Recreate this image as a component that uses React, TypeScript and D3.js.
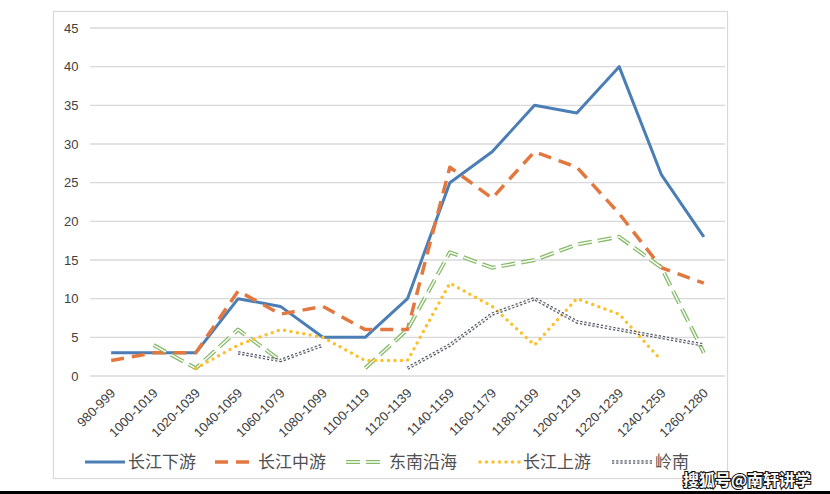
import { useEffect, useRef } from "react";
import * as d3 from "d3";

// periods on the x axis
const periods = [
  "980-999",
  "1000-1019",
  "1020-1039",
  "1040-1059",
  "1060-1079",
  "1080-1099",
  "1100-1119",
  "1120-1139",
  "1140-1159",
  "1160-1179",
  "1180-1199",
  "1200-1219",
  "1220-1239",
  "1240-1259",
  "1260-1280",
];

const yTicks = [0, 5, 10, 15, 20, 25, 30, 35, 40, 45];

// series values (null = no data)
const lowerYangtze = [3, 3, 3, 10, 9, 5, 5, 10, 25, 29, 35, 34, 40, 26, 18];
const middleYangtze = [2, 3, 3, 11, 8, 9, 6, 6, 27, 23, 29, 27, 21, 14, 12];
const southeastCoast = [null, 4, 1, 6, 2, null, 1, 6, 16, 14, 15, 17, 18, 14, 3];
const upperYangtze = [null, null, 1, 4, 6, 5, 2, 2, 12, 9, 4, 10, 8, 2, null];
const lingnan = [null, null, null, 3, 2, 4, null, 1, 4, 8, 10, 7, 6, 5, 4];

const seriesNames = ["长江下游", "长江中游", "东南沿海", "长江上游", "岭南"];

type Style = {
  color: string;
  width: number;
  dash: string | null;
  cap: string;
  inner?: number; // white inner stroke for compound (double) lines
};

const styles: Style[] = [
  { color: "#4a7eb5", width: 3, dash: null, cap: "butt" },
  { color: "#e2783f", width: 3.5, dash: "13,8", cap: "butt" },
  { color: "#86bb68", width: 4, dash: "14,6", cap: "butt", inner: 1.4 },
  { color: "#fcc02a", width: 3.5, dash: "0,6.5", cap: "round" },
  { color: "#555a66", width: 3.6, dash: "2.2,2", cap: "butt", inner: 1.1 },
];

export default function App() {
  const ref = useRef<SVGSVGElement>(null);

  useEffect(() => {
    const svg = d3.select(ref.current);
    svg.selectAll("*").remove();

    const width = 830;
    const height = 494;
    const plot = { left: 90, right: 725, top: 28, bottom: 376 };

    const x = d3
      .scaleBand<string>()
      .domain(periods)
      .range([plot.left, plot.right]);
    const y = d3.scaleLinear().domain([0, 45]).range([plot.bottom, plot.top]);

    svg
      .append("rect")
      .attr("width", width)
      .attr("height", height)
      .attr("fill", "white");

    // chart frame
    svg
      .append("rect")
      .attr("x", 53.5)
      .attr("y", 11.5)
      .attr("width", 674)
      .attr("height", 467)
      .attr("fill", "none")
      .attr("stroke", "#d9d9d9")
      .attr("stroke-width", 1.2);

    // gridlines
    svg
      .append("g")
      .selectAll("line")
      .data(yTicks)
      .join("line")
      .attr("x1", plot.left)
      .attr("x2", plot.right)
      .attr("y1", (d) => y(d))
      .attr("y2", (d) => y(d))
      .attr("stroke", "#d9d9d9")
      .attr("stroke-width", 1.3);

    // y tick labels
    svg
      .append("g")
      .selectAll("text")
      .data(yTicks)
      .join("text")
      .attr("x", 78.5)
      .attr("y", (d) => y(d))
      .attr("dy", "0.35em")
      .attr("text-anchor", "end")
      .attr("font-family", "Liberation Sans, Arial, sans-serif")
      .attr("font-size", 13)
      .attr("fill", "#404040")
      .text((d) => d);

    // x tick labels, rotated
    svg
      .append("g")
      .selectAll("text")
      .data(periods)
      .join("text")
      .attr("transform", (d) => {
        const cx = (x(d) as number) + x.bandwidth() / 2 + 5;
        return `translate(${cx},${plot.bottom + 18}) rotate(-45)`;
      })
      .attr("text-anchor", "end")
      .attr("font-family", "Liberation Sans, Arial, sans-serif")
      .attr("font-size", 13)
      .attr("fill", "#404040")
      .text((d) => d);

    const allSeries = [
      lowerYangtze,
      middleYangtze,
      southeastCoast,
      upperYangtze,
      lingnan,
    ];

    const line = d3
      .line<number | null>()
      .defined((d) => d != null)
      .x((_, i) => (x(periods[i]) as number) + x.bandwidth() / 2)
      .y((d) => y(d as number));

    const drawStroke = (
      g: d3.Selection<SVGGElement, unknown, null, undefined>,
      dPath: string,
      s: Style
    ) => {
      const p = g
        .append("path")
        .attr("d", dPath)
        .attr("fill", "none")
        .attr("stroke", s.color)
        .attr("stroke-width", s.width)
        .attr("stroke-linecap", s.cap)
        .attr("stroke-linejoin", "round");
      if (s.dash) p.attr("stroke-dasharray", s.dash);
      if (s.inner) {
        const q = g
          .append("path")
          .attr("d", dPath)
          .attr("fill", "none")
          .attr("stroke", "white")
          .attr("stroke-width", s.inner)
          .attr("stroke-linejoin", "round");
        if (s.dash) q.attr("stroke-dasharray", s.dash);
      }
    };

    const lines = svg.append("g");
    allSeries.forEach((values, i) => {
      drawStroke(lines, line(values) as string, styles[i]);
    });

    // legend
    const legendY = 462;
    const legendX = [85, 215, 346, 480, 612];
    const legend = svg.append("g");
    seriesNames.forEach((name, i) => {
      const x0 = legendX[i];
      drawStroke(legend, `M${x0},${legendY}L${x0 + 40},${legendY}`, styles[i]);
      legend
        .append("text")
        .attr("x", x0 + 43)
        .attr("y", legendY)
        .attr("dy", "0.36em")
        .attr("font-family", "Noto Sans CJK SC, sans-serif")
        .attr("font-size", 17)
        .attr("fill", "#505050")
        .text(name);
    });

    // watermark
    svg
      .append("text")
      .attr("x", 683)
      .attr("y", 486)
      .attr("font-family", "Noto Sans CJK SC, sans-serif")
      .attr("font-size", 16)
      .attr("font-weight", "bold")
      .attr("fill", "white")
      .attr("stroke", "#111")
      .attr("stroke-width", 2.2)
      .attr("paint-order", "stroke")
      .text("搜狐号@南轩讲学");

    // black band at the bottom edge
    svg
      .append("rect")
      .attr("x", 0)
      .attr("y", 491)
      .attr("width", width)
      .attr("height", 3)
      .attr("fill", "#000");
  }, []);

  return (
    <svg
      ref={ref}
      width={830}
      height={494}
      style={{ position: "absolute", left: 0, top: 0 }}
    />
  );
}
